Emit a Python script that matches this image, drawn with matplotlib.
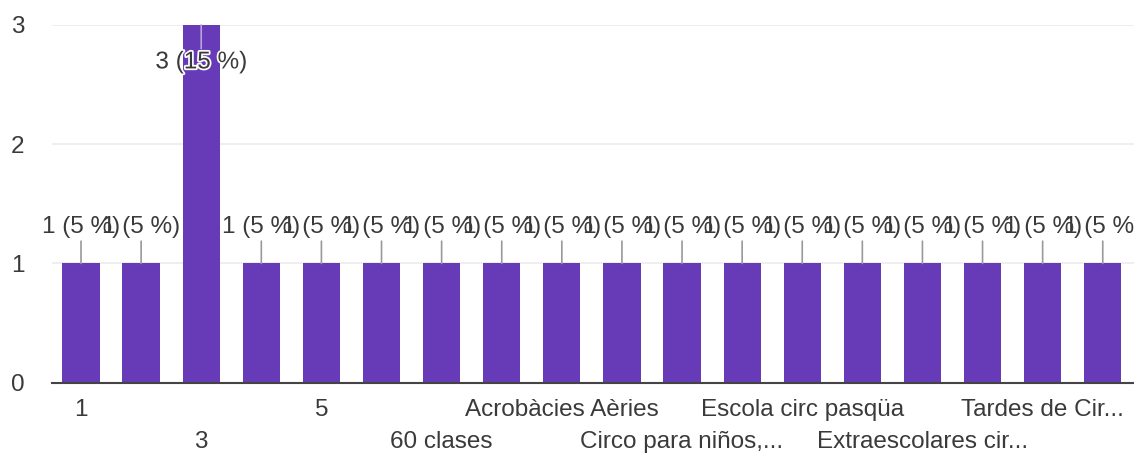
import matplotlib
matplotlib.use('Agg')
import matplotlib.pyplot as plt
import matplotlib.patheffects as pe
import numpy as np

plt.rcParams['font.family'] = ['Liberation Sans', 'DejaVu Sans']

# 18 respuestas, 20 en total
counts = [1, 1, 3, 1, 1, 1, 1, 1, 1, 1, 1, 1, 1, 1, 1, 1, 1, 1]
total = 20
# etiquetas visibles (una de cada dos barras), en dos filas
row1_pos = [0, 4, 8, 12, 16]
row1_labels = ['1', '5', 'Acrobàcies Aèries', 'Escola circ pasqüa', 'Tardes de Cir...']
row2_pos = [2, 6, 10, 14]
row2_labels = ['3', '60 clases', 'Circo para niños,...', 'Extraescolares cir...']

purple = '#673ab7'
txt = '#3a3a3a'
fs = 17.5

fig = plt.figure(figsize=(11.34, 4.53), dpi=100)
ax = fig.add_axes([0.046, 0.155, 0.954, 0.79])

x = np.arange(len(counts))
ax.bar(x, counts, width=0.62, color=purple, zorder=2)

ax.set_xlim(-0.48, 17.52)
ax.set_ylim(0, 3)
ax.set_yticks([0, 1, 2, 3])
ax.grid(axis='y', color='#ebebeb', linewidth=1.2, zorder=0)
for s in ['left', 'right', 'top']:
    ax.spines[s].set_visible(False)
ax.spines['bottom'].set_color('#444444')
ax.spines['bottom'].set_linewidth(1.5)
ax.spines['bottom'].set_zorder(3)

ax.tick_params(axis='y', length=0, pad=20, labelsize=fs, labelcolor=txt)
ax.set_xticks(row1_pos, row1_labels)
ax.set_xticks(row2_pos, row2_labels, minor=True)
ax.tick_params(axis='x', which='major', length=0, pad=12, labelsize=fs, labelcolor=txt)
ax.tick_params(axis='x', which='minor', length=0, pad=35, labelsize=fs, labelcolor=txt)

ymax = ax.get_ylim()[1]
for xi, c in zip(x, counts):
    label = f'{c} ({c * 100 // total} %)'
    if c >= ymax:
        ax.annotate(label, xy=(xi, c), xytext=(0, -27), textcoords='offset points',
                    ha='center', va='center', fontsize=fs, color=txt, zorder=5,
                    path_effects=[pe.withStroke(linewidth=2.5, foreground='white')],
                    arrowprops=dict(arrowstyle='-', color='#b9a6dd', lw=1.2,
                                    shrinkA=0, shrinkB=0))
    else:
        ax.annotate(label, xy=(xi, c), xytext=(0, 26), textcoords='offset points',
                    ha='center', va='center', fontsize=fs, color=txt, zorder=5,
                    annotation_clip=False,
                    arrowprops=dict(arrowstyle='-', color='#999999', lw=1.2,
                                    shrinkA=0, shrinkB=0))

fig.savefig('out.png', dpi=100)
